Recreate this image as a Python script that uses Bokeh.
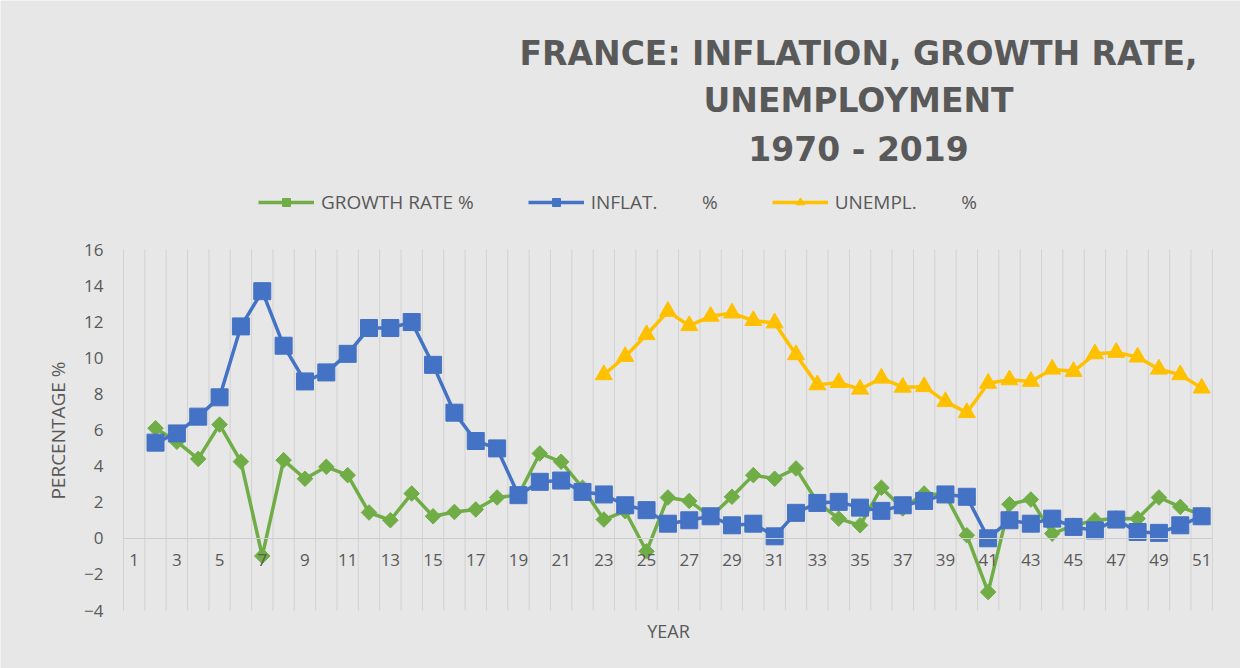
import math
from bokeh.plotting import figure
from bokeh.models import Label, Legend, LegendItem, FixedTicker, Range1d
from bokeh.embed import file_html
from bokeh.resources import INLINE

# ---- data -------------------------------------------------------------
categories = list(range(1, 52))           # category axis 1..51
x_tick_values = list(range(1, 52, 2))     # labelled ticks 1,3,...,51
y_tick_values = [-4, -2, 0, 2, 4, 6, 8, 10, 12, 14, 16]

growth_x = list(range(2, 52))
growth = [6.1, 5.35, 4.4, 6.3, 4.25, -0.98, 4.33, 3.3, 3.96, 3.5,
          1.43, 1.0, 2.48, 1.22, 1.46, 1.6, 2.26, 2.4, 4.7, 4.24,
          2.8, 1.04, 1.5, -0.72, 2.26, 2.07, 1.2, 2.3, 3.5, 3.3,
          3.87, 2.0, 1.09, 0.72, 2.8, 1.65, 2.48, 2.4, 0.17, -2.98,
          1.89, 2.15, 0.26, 0.7, 1.0, 1.1, 1.09, 2.26, 1.74, 1.3]

inflation_x = list(range(2, 52))
inflation = [5.3, 5.81, 6.74, 7.81, 11.74, 13.69, 10.67, 8.69, 9.19, 10.22,
             11.65, 11.65, 11.98, 9.61, 6.96, 5.39, 4.98, 2.39, 3.13, 3.2,
             2.57, 2.43, 1.83, 1.56, 0.81, 1.0, 1.22, 0.72, 0.81, 0.11,
             1.41, 1.96, 2.02, 1.7, 1.52, 1.83, 2.07, 2.43, 2.3, 0.0,
             1.0, 0.81, 1.09, 0.63, 0.44, 1.04, 0.35, 0.3, 0.72, 1.22]

unemp_x = list(range(23, 52))
unemp = [9.06, 10.07, 11.28, 12.57, 11.78, 12.3, 12.48, 12.06, 11.93,
         10.17, 8.5, 8.63, 8.26, 8.87, 8.37, 8.4, 7.57, 6.96,
         8.59, 8.78, 8.69, 9.37, 9.24, 10.22, 10.3, 10.04, 9.37, 9.06, 8.32]

series_names = ["GROWTH RATE %", "INFLAT.         %", "UNEMPL.         %"]
title_lines = ["FRANCE: INFLATION, GROWTH RATE,", "UNEMPLOYMENT", "1970 - 2019"]
x_title = "YEAR"
y_title = "PERCENTAGE %"

# ---- style ------------------------------------------------------------
BG = "#e7e7e7"
TXT = "#595959"
GREEN = "#70ad47"
BLUE = "#4472c4"
GOLD = "#ffc000"
FONT = "Open Sans"

x_lo, x_hi = categories[0] - 0.5, categories[-1] + 0.5
y_lo, y_hi = y_tick_values[0], y_tick_values[-1]

# the frame covers the whole canvas; plot-area extent is x_lo..x_hi, y_lo..y_hi
p = figure(width=1240, height=668, output_backend="svg", toolbar_location=None,
           title=None,
           x_range=Range1d(-5.261, 52.82), y_range=Range1d(-7.213, 29.795),
           min_border_left=0, min_border_right=0,
           min_border_top=0, min_border_bottom=0)
p.background_fill_color = BG
p.border_fill_color = BG
p.outline_line_color = None
p.xgrid.grid_line_color = None
p.ygrid.grid_line_color = None

# vertical category gridlines limited to the plot area
bounds = [c - 0.5 for c in categories] + [x_hi]
p.segment(x0=bounds, x1=bounds, y0=[y_lo] * len(bounds), y1=[y_hi] * len(bounds),
          line_color="#d2d2d2", line_width=1)

# x axis crossing at 0
xa = p.xaxis[0]
xa.fixed_location = 0
xa.bounds = (x_lo, x_hi)
xa.ticker = FixedTicker(ticks=x_tick_values)
xa.axis_line_color = "#cdcdcd"
xa.axis_line_width = 1
xa.major_tick_line_color = None
xa.minor_tick_line_color = None
xa.major_tick_out = 0
xa.major_tick_in = 0
xa.major_label_text_color = TXT
xa.major_label_text_font = FONT
xa.major_label_text_font_size = "17px"
xa.major_label_standoff = 16

ya = p.yaxis[0]
ya.fixed_location = x_lo
ya.ticker = FixedTicker(ticks=y_tick_values)
ya.axis_line_color = None
ya.major_tick_line_color = None
ya.minor_tick_line_color = None
ya.major_tick_out = 0
ya.major_tick_in = 0
ya.major_label_text_color = TXT
ya.major_label_text_font = FONT
ya.major_label_text_font_size = "17px"
ya.major_label_standoff = 20

# series
gl = p.line(growth_x, growth, line_color=GREEN, line_width=3.5)
gs = p.scatter(growth_x, growth, marker="square", angle=math.pi / 4, size=11,
               fill_color=GREEN, line_color=GREEN)
il = p.line(inflation_x, inflation, line_color=BLUE, line_width=3.5)
is_ = p.scatter(inflation_x, inflation, marker="square", size=17,
                fill_color=BLUE, line_color=BLUE)
ul = p.line(unemp_x, unemp, line_color=GOLD, line_width=3.5)
us = p.scatter(unemp_x, unemp, marker="triangle", size=17,
               fill_color=GOLD, line_color=GOLD)

legend = Legend(items=[LegendItem(label=series_names[0], renderers=[gl, gs]),
                       LegendItem(label=series_names[1], renderers=[il, is_]),
                       LegendItem(label=series_names[2], renderers=[ul, us])],
                orientation="horizontal", location=(258, 453),
                background_fill_alpha=0, border_line_color=None,
                label_text_color=TXT, label_text_font=FONT,
                label_text_font_size="19px",
                glyph_width=56, glyph_height=20, label_height=20,
                label_standoff=7, spacing=54, padding=0, margin=0)
p.add_layout(legend)

# title lines
title_y = [26.86, 24.25, 21.54]
for line, ty in zip(title_lines, title_y):
    p.add_layout(Label(x=34.93, y=ty, text=line, text_align="center",
                       text_baseline="middle", text_color=TXT,
                       text_font="DejaVu Sans", text_font_style="bold",
                       text_font_size="33px"))

# axis titles
p.add_layout(Label(x=26.03, y=-5.11, text=x_title, text_align="center",
                   text_baseline="middle", text_color=TXT,
                   text_font=FONT, text_font_size="18px"))
p.add_layout(Label(x=-2.59, y=5.97, text=y_title, text_align="center",
                   text_baseline="middle", text_color=TXT, angle=math.pi / 2,
                   text_font=FONT, text_font_size="19px"))

open("out.html", "w").write(file_html(p, INLINE))
